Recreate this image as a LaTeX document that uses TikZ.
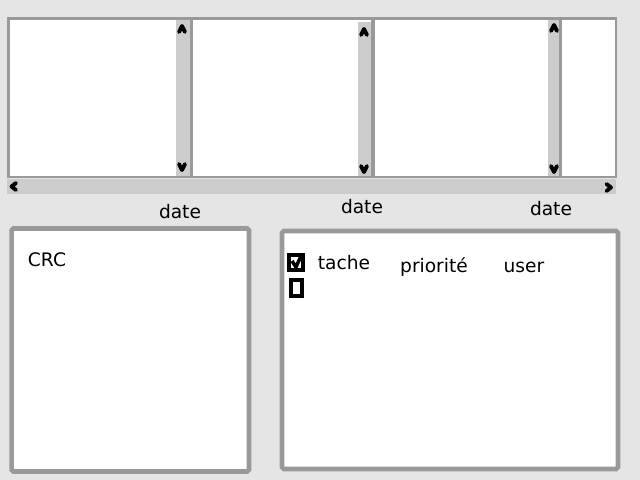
\documentclass[tikz,border=0pt]{standalone}
\usepackage{fontspec}
\setmainfont{DejaVu Sans}
\usetikzlibrary{positioning}
\tikzset{>=latex}
\definecolor{bggray}{HTML}{E5E5E5}
\definecolor{framegray}{HTML}{999999}
\definecolor{bargray}{HTML}{CCCCCC}
\tikzstyle{pane} = [draw=framegray, fill=white, line width=1.7pt]
\tikzstyle{box} = [draw=framegray, fill=white, line width=2.6pt, rounded corners=1pt]
\tikzstyle{bar} = [fill=bargray, draw=none]
\tikzstyle{sep} = [draw=framegray, line width=1.8pt]
\tikzstyle{tip} = [draw=black, line width=2.2pt, line cap=round, line join=round]
\tikzstyle{label} = [anchor=base, inner sep=0pt, font=\fontsize{10.6}{12}\selectfont]
\tikzstyle{check} = [draw=black, line width=2pt]

\begin{document}
\begin{tikzpicture}[x=0.02cm, y=-0.02cm]
\useasboundingbox [fill=bggray] (0, 0) rectangle (640, 480);

% top frame with three panes
\draw [pane] (8.5, 18.7) rectangle (616, 177);
\fill [bar] (176.3, 20) rectangle (190, 175.5);
\fill [bar] (358, 22) rectangle (371.4, 175.5);
\fill [bar] (547.8, 20) rectangle (559, 175.5);
\draw [sep] (191.3, 18.7) -- (191.3, 177);
\draw [sep] (373, 18.7) -- (373, 177);
\draw [sep] (560.7, 18.7) -- (560.7, 177);
\fill [bar] (7.3, 178.7) rectangle (616, 194);

% scroll arrows
\foreach \x/\yu/\yd in {182/32/164, 364/35/166, 554/31/166} {
  \draw [tip] (\x-3, \yu) -- (\x, \yu-6) -- (\x+3, \yu);
  \draw [tip] (\x-3, \yd) -- (\x, \yd+6) -- (\x+3, \yd);
}
\draw [tip] (16, 183) -- (11.5, 186.5) -- (16, 190);
\draw [tip] (606.5, 184) -- (611, 187.5) -- (606.5, 191);

\node [label] (date1) at (180, 218) {date};
\node [label] (date2) at (362, 214) {date};
\node [label] (date3) at (551, 215) {date};

% lower boxes
\draw [box] (11.7, 228.5) rectangle (249, 471.5);
\node [label] (crc) at (47, 266) {CRC};

\draw [box] (282, 231) rectangle (618, 469);
\draw [check] (289, 255) rectangle (303, 270);
\draw [check] (292, 261) -- (296, 267) -- (301, 256);
\draw [check] (291, 280) rectangle (302, 296);
\node [label] (tache) at (344, 269) {tache};
\node [label] (prio) at (434, 272) {priorité};
\node [label] (user) at (524, 272) {user};
\end{tikzpicture}
\end{document}
